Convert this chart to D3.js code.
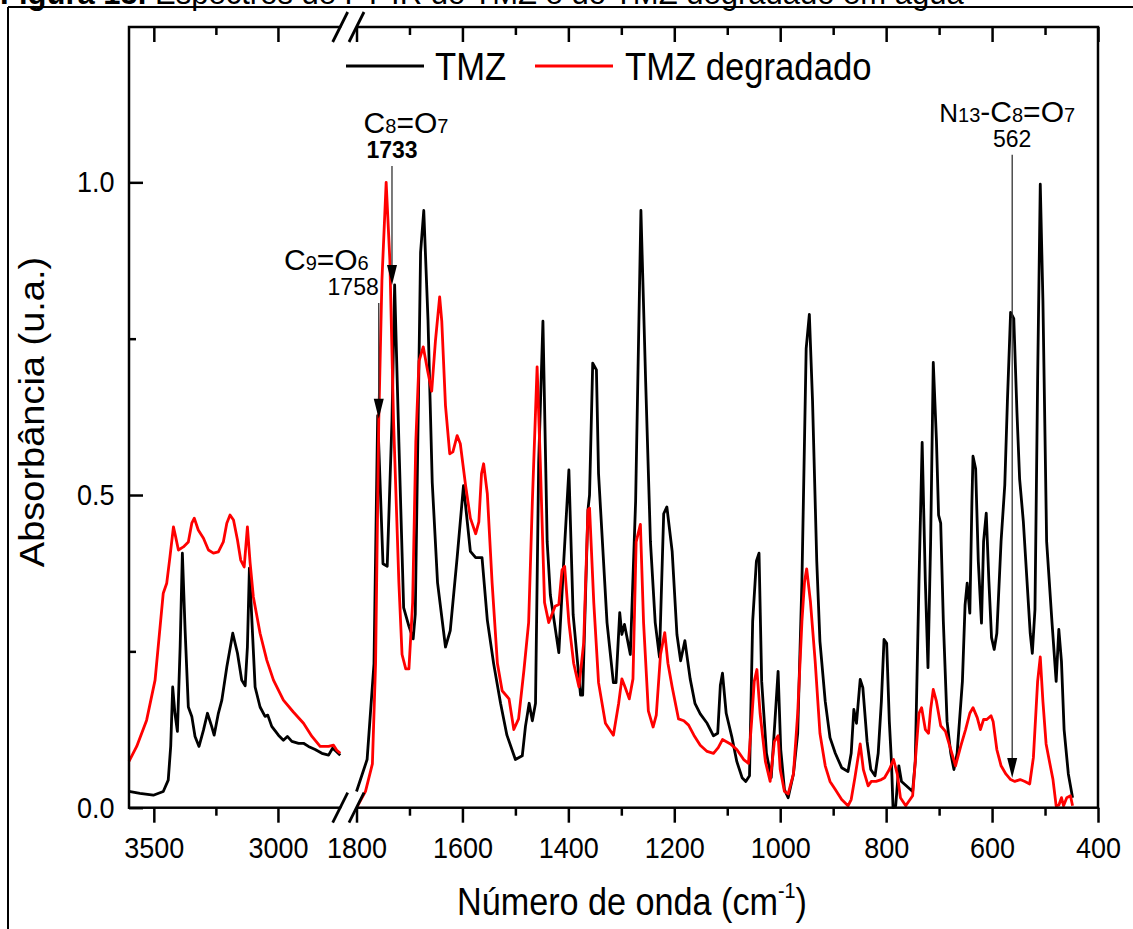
<!DOCTYPE html>
<html>
<head>
<meta charset="utf-8">
<script src="https://cdn.jsdelivr.net/npm/d3@7"></script>
<style>
  body { margin: 0; background: #fff; }
  svg { display: block; font-family: "Liberation Sans", Arial, sans-serif; }
</style>
</head>
<body>
<script>
const w = 1133;
const h = 929;
const plot = { left: 129, right: 1098, top: 27, bottom: 807.7 };
const squeeze = 0.9; // the original picture is a bit narrower than tall

// high wavenumber part (3600-2750 cm-1)
const tmzHighWn = [3600, 3556, 3502, 3462, 3442, 3432, 3424, 3415, 3405, 3394, 3385, 3374, 3361, 3347, 3334, 3318, 3300, 3284, 3267, 3257, 3240, 3226, 3206, 3182, 3163, 3146, 3132, 3123, 3115, 3105, 3092, 3072, 3052, 3041, 3025, 2998, 2978, 2962, 2944, 2917, 2897, 2877, 2850, 2823, 2796, 2780, 2765, 2749];
const tmzHighAbs = [0.026, 0.023, 0.02, 0.026, 0.044, 0.098, 0.193, 0.151, 0.122, 0.257, 0.407, 0.284, 0.161, 0.146, 0.114, 0.098, 0.124, 0.151, 0.13, 0.116, 0.151, 0.172, 0.225, 0.279, 0.247, 0.204, 0.195, 0.257, 0.383, 0.3, 0.193, 0.161, 0.146, 0.148, 0.13, 0.116, 0.108, 0.114, 0.106, 0.103, 0.103, 0.098, 0.093, 0.087, 0.084, 0.095, 0.09, 0.084];
const degHighWn = [3600, 3569, 3529, 3495, 3462, 3448, 3435, 3421, 3412, 3401, 3381, 3361, 3347, 3337, 3321, 3300, 3280, 3260, 3240, 3220, 3206, 3193, 3179, 3163, 3150, 3136, 3123, 3112, 3099, 3072, 3045, 3018, 2978, 2938, 2897, 2863, 2830, 2796, 2776, 2763, 2749];
const degHighAbs = [0.074, 0.098, 0.14, 0.204, 0.343, 0.359, 0.401, 0.449, 0.433, 0.412, 0.417, 0.425, 0.455, 0.463, 0.444, 0.431, 0.412, 0.407, 0.409, 0.425, 0.455, 0.468, 0.46, 0.428, 0.396, 0.385, 0.449, 0.391, 0.337, 0.279, 0.236, 0.204, 0.172, 0.153, 0.135, 0.114, 0.098, 0.098, 0.1, 0.092, 0.087];

// low wavenumber part (1800-400 cm-1)
const tmzLowWn = [1800, 1780, 1767, 1760, 1750, 1742, 1733, 1728, 1720, 1711, 1701, 1693, 1689, 1679, 1673, 1665, 1657, 1647, 1632, 1623, 1610, 1598, 1585, 1575, 1563, 1553, 1541, 1528, 1516, 1500, 1487, 1481, 1474, 1468, 1462, 1456, 1448, 1440, 1434, 1418, 1409, 1399, 1391, 1377, 1373, 1363, 1360, 1354, 1347, 1343, 1327, 1315, 1310, 1303, 1299, 1294, 1283, 1273, 1263, 1254, 1245, 1236, 1228, 1220, 1214, 1204, 1195, 1188, 1180, 1170, 1161, 1151, 1138, 1126, 1118, 1113, 1109, 1102, 1091, 1082, 1072, 1065, 1058, 1052, 1045, 1040, 1035, 1026, 1017, 1010, 1004, 999, 992, 985, 975, 967, 959, 951, 945, 939, 931, 925, 915, 906, 896, 884, 872, 866, 861, 856, 849, 844, 836, 829, 821, 815, 809, 804, 799, 794, 790, 787, 782, 776, 771, 762, 750, 745, 738, 732, 726, 721, 716, 711, 705, 701, 697, 692, 685, 678, 672, 666, 656, 651, 647, 642, 638, 636, 631, 626, 620, 616, 611, 606, 601, 596, 591, 583, 576, 571, 565, 559, 553, 548, 541, 534, 528, 524, 519, 514, 509, 504, 497, 487, 479, 474, 469, 464, 456, 448];
const tmzLowAbs = [0.026, 0.077, 0.23, 0.627, 0.39, 0.386, 0.62, 0.836, 0.585, 0.32, 0.29, 0.27, 0.31, 0.888, 0.955, 0.78, 0.52, 0.36, 0.257, 0.283, 0.4, 0.515, 0.41, 0.4, 0.4, 0.3, 0.23, 0.167, 0.116, 0.077, 0.083, 0.13, 0.167, 0.139, 0.167, 0.553, 0.778, 0.425, 0.34, 0.248, 0.39, 0.54, 0.309, 0.18, 0.18, 0.476, 0.5, 0.711, 0.7, 0.534, 0.296, 0.2, 0.2, 0.312, 0.277, 0.293, 0.245, 0.49, 0.955, 0.68, 0.425, 0.296, 0.241, 0.47, 0.481, 0.41, 0.277, 0.235, 0.267, 0.206, 0.167, 0.15, 0.135, 0.115, 0.119, 0.196, 0.215, 0.151, 0.112, 0.074, 0.048, 0.042, 0.051, 0.298, 0.394, 0.407, 0.202, 0.087, 0.048, 0.138, 0.218, 0.093, 0.029, 0.016, 0.054, 0.119, 0.362, 0.734, 0.789, 0.651, 0.394, 0.266, 0.17, 0.112, 0.087, 0.064, 0.058, 0.087, 0.157, 0.135, 0.205, 0.192, 0.106, 0.061, 0.051, 0.087, 0.17, 0.269, 0.263, 0.138, 0.074, 0.0, 0.003, 0.067, 0.042, 0.035, 0.026, 0.074, 0.362, 0.584, 0.362, 0.224, 0.426, 0.712, 0.587, 0.468, 0.455, 0.298, 0.138, 0.087, 0.061, 0.087, 0.202, 0.324, 0.359, 0.311, 0.491, 0.562, 0.542, 0.394, 0.295, 0.426, 0.471, 0.362, 0.272, 0.253, 0.279, 0.426, 0.516, 0.651, 0.792, 0.782, 0.632, 0.526, 0.458, 0.362, 0.279, 0.247, 0.317, 0.683, 0.997, 0.811, 0.426, 0.298, 0.202, 0.285, 0.234, 0.125, 0.054, 0.016];
const degLowWn = [1800, 1783, 1770, 1764, 1758, 1752, 1744, 1737, 1730, 1720, 1714, 1707, 1701, 1694, 1688, 1682, 1674, 1666, 1658, 1651, 1643, 1639, 1632, 1624, 1618, 1610, 1604, 1594, 1585, 1575, 1569, 1564, 1560, 1553, 1544, 1534, 1525, 1512, 1503, 1494, 1484, 1475, 1468, 1459, 1453, 1445, 1437, 1425, 1418, 1412, 1407, 1399, 1390, 1380, 1371, 1363, 1360, 1352, 1343, 1330, 1315, 1305, 1299, 1293, 1285, 1278, 1272, 1264, 1258, 1249, 1240, 1234, 1226, 1218, 1212, 1204, 1192, 1182, 1173, 1163, 1151, 1138, 1126, 1117, 1109, 1094, 1082, 1069, 1060, 1054, 1049, 1044, 1038, 1028, 1019, 1011, 1004, 1000, 992, 985, 975, 967, 959, 954, 950, 943, 934, 925, 915, 906, 896, 884, 872, 866, 859, 849, 843, 834, 828, 819, 809, 803, 794, 786, 779, 773, 763, 750, 745, 738, 733, 726, 720, 716, 711, 705, 697, 688, 678, 669, 659, 650, 642, 636, 628, 622, 616, 610, 602, 598, 591, 583, 574, 565, 557, 547, 538, 529, 522, 514, 509, 504, 498, 491, 485, 479, 474, 469, 465, 459, 452, 448];
const degLowAbs = [0.0, 0.026, 0.07, 0.23, 0.617, 0.843, 1.0, 0.875, 0.617, 0.36, 0.245, 0.222, 0.222, 0.328, 0.585, 0.714, 0.737, 0.7, 0.666, 0.746, 0.817, 0.778, 0.643, 0.566, 0.569, 0.595, 0.582, 0.515, 0.463, 0.438, 0.457, 0.534, 0.55, 0.502, 0.36, 0.231, 0.187, 0.174, 0.125, 0.142, 0.219, 0.296, 0.489, 0.705, 0.553, 0.328, 0.296, 0.322, 0.325, 0.38, 0.386, 0.296, 0.231, 0.193, 0.264, 0.476, 0.479, 0.328, 0.2, 0.135, 0.116, 0.167, 0.206, 0.193, 0.174, 0.206, 0.425, 0.453, 0.296, 0.155, 0.129, 0.148, 0.245, 0.28, 0.231, 0.193, 0.142, 0.139, 0.132, 0.116, 0.1, 0.09, 0.087, 0.096, 0.109, 0.102, 0.093, 0.077, 0.071, 0.138, 0.202, 0.221, 0.151, 0.074, 0.042, 0.106, 0.115, 0.061, 0.026, 0.022, 0.054, 0.151, 0.298, 0.362, 0.382, 0.33, 0.234, 0.119, 0.067, 0.042, 0.029, 0.013, 0.003, 0.013, 0.048, 0.102, 0.061, 0.035, 0.042, 0.042, 0.045, 0.048, 0.061, 0.077, 0.054, 0.016, 0.003, 0.019, 0.074, 0.151, 0.16, 0.125, 0.119, 0.157, 0.189, 0.17, 0.131, 0.122, 0.093, 0.067, 0.099, 0.125, 0.151, 0.16, 0.144, 0.125, 0.141, 0.141, 0.147, 0.138, 0.093, 0.067, 0.054, 0.045, 0.042, 0.045, 0.042, 0.038, 0.08, 0.202, 0.241, 0.17, 0.102, 0.071, 0.045, 0.003, 0.004, 0.016, 0.003, 0.016, 0.019, 0.003];

const highTicks = [3500, 3000];
const highMinor = [3250];
const lowTicks = [1800, 1600, 1400, 1200, 1000, 800, 600, 400];
const lowMinor = [1700, 1500, 1300, 1100, 900, 700, 500];
const yTicks = [0, 0.5, 1.0];
const yMinor = [0.25, 0.75];

const seriesNames = ["TMZ", "TMZ degradado"];
const seriesColors = ["#000000", "#ff0000"];

// band labels: [wavenumber, arrow tip, arrow top, number]
const bands = [
  [1758, 0.622, 0.807, "1758"],
  [1733, 0.836, 1.026, "1733"],
  [562, 0.0475, 1.044, "562"]
];

const createScales = () => {
  const xHigh = d3.scaleLinear().domain([3600, 2750]).range([plot.left, 340]);
  const xLow = d3.scaleLinear().domain([1800, 400]).range([356.5, plot.right]);
  const y = d3.scaleLinear().domain([0, 1.2484]).range([plot.bottom, plot.top]);
  return { xHigh, xLow, y };
};

const styleAxis = (g) => {
  g.select(".domain").remove();
  g.selectAll(".tick line").attr("stroke", "#000").attr("stroke-width", 2.5);
  g.selectAll(".tick text")
    .attr("fill", "#000")
    .attr("font-size", 30)
    .attr("font-family", "Liberation Sans, Arial, sans-serif")
    .attr("transform", `scale(${squeeze},1)`);
};

const createAxes = (svg, { xHigh, xLow, y }) => {
  const fmt = d3.format("d");
  [[xHigh, highTicks, highMinor], [xLow, lowTicks, lowMinor]].forEach(([sc, major, minor]) => {
    svg.append("g")
      .attr("transform", `translate(0,${plot.bottom})`)
      .call(d3.axisBottom(sc).tickValues(major).tickSize(15).tickPadding(14).tickFormat(fmt))
      .call(styleAxis);
    svg.append("g")
      .attr("transform", `translate(0,${plot.bottom})`)
      .call(d3.axisBottom(sc).tickValues(minor).tickSize(8).tickFormat(""))
      .call(styleAxis);
    svg.append("g")
      .attr("transform", `translate(0,${plot.top})`)
      .call(d3.axisTop(sc).tickValues(major).tickSize(-15).tickFormat(""))
      .call(styleAxis);
    svg.append("g")
      .attr("transform", `translate(0,${plot.top})`)
      .call(d3.axisTop(sc).tickValues(minor).tickSize(-8).tickFormat(""))
      .call(styleAxis);
  });
  svg.append("g")
    .attr("transform", `translate(${plot.left},0)`)
    .call(d3.axisLeft(y).tickValues(yTicks).tickSize(-14).tickPadding(16).tickFormat(d3.format(".1f")))
    .call(styleAxis);
  svg.append("g")
    .attr("transform", `translate(${plot.left},0)`)
    .call(d3.axisLeft(y).tickValues(yMinor).tickSize(-7).tickFormat(""))
    .call(styleAxis);

  // frame
  svg.append("rect")
    .attr("x", plot.left).attr("y", plot.top)
    .attr("width", plot.right - plot.left).attr("height", plot.bottom - plot.top)
    .attr("fill", "none").attr("stroke", "#000").attr("stroke-width", 2.5);

  // x title
  const xt = svg.append("text")
    .attr("transform", `translate(632,915) scale(${squeeze},1)`)
    .attr("text-anchor", "middle")
    .attr("font-size", 38);
  xt.append("tspan").text("Número de onda (cm");
  xt.append("tspan").attr("font-size", 22).attr("dy", -17).text("-1");
  xt.append("tspan").attr("dy", 17).text(")");

  // y title
  svg.append("text")
    .attr("transform", `translate(44,412) scale(${squeeze},1) rotate(-90)`)
    .attr("text-anchor", "middle")
    .attr("font-size", 38)
    .text("Absorbância (u.a.)");
};

const createLines = (svg, { xHigh, xLow, y }) => {
  const sets = [
    [xHigh, tmzHighWn, tmzHighAbs, 0],
    [xHigh, degHighWn, degHighAbs, 1],
    [xLow, tmzLowWn, tmzLowAbs, 0],
    [xLow, degLowWn, degLowAbs, 1]
  ];
  sets.forEach(([sc, wn, ab, k]) => {
    const pts = wn.map((v, i) => [v, ab[i]]);
    const line = d3.line().x((d) => sc(d[0])).y((d) => y(d[1]));
    svg.append("path")
      .attr("d", line(pts))
      .attr("fill", "none")
      .attr("stroke", seriesColors[k])
      .attr("stroke-width", 2.8)
      .attr("stroke-linejoin", "round");
  });
};

const createBreak = (svg) => {
  [plot.bottom, plot.top].forEach((yy) => {
    svg.append("polygon")
      .attr("points", `${334},${yy + 15} ${349},${yy - 15} ${364},${yy - 15} ${349},${yy + 15}`)
      .attr("fill", "#fff");
    [340.2, 356.5].forEach((cx) => {
      svg.append("line")
        .attr("x1", cx - 7.5).attr("y1", yy + 15)
        .attr("x2", cx + 7.5).attr("y2", yy - 15)
        .attr("stroke", "#000").attr("stroke-width", 2.8);
    });
  });
};

const createLegend = (svg) => {
  const items = [[346, 435], [535, 625]];
  items.forEach(([lx, tx], i) => {
    svg.append("line")
      .attr("x1", lx).attr("x2", lx + 78).attr("y1", 66).attr("y2", 66)
      .attr("stroke", seriesColors[i]).attr("stroke-width", 3);
    svg.append("text")
      .attr("transform", `translate(${tx},80) scale(${squeeze},1)`)
      .attr("font-size", 38.5)
      .text(seriesNames[i]);
  });
};

const labelParts = [
  [["C", 30], ["9", 20], ["=O", 30], ["6", 20]],
  [["C", 30], ["8", 20], ["=O", 30], ["7", 20]],
  [["N", 26], ["13", 20], ["-C", 30], ["8", 20], ["=O", 30], ["7", 20]]
];

const createBands = (svg, { xLow, y }) => {
  bands.forEach(([wn, tip, top, num], i) => {
    const x = xLow(wn);
    const yTip = y(tip);
    svg.append("line")
      .attr("x1", x).attr("x2", x).attr("y1", y(top)).attr("y2", yTip - 18)
      .attr("stroke", "#333").attr("stroke-width", 1.3);
    svg.append("polygon")
      .attr("points", `${x - 5},${yTip - 20} ${x + 5},${yTip - 20} ${x},${yTip}`)
      .attr("fill", "#000");

    const anchor = i === 0 ? "end" : "middle";
    const labelX = i === 0 ? x - 10 : i === 1 ? x + 14 : x - 5;
    svg.append("text")
      .attr("x", x).attr("y", y(top) - 8)
      .attr("text-anchor", anchor)
      .attr("font-size", 23)
      .attr("font-weight", i === 1 ? "bold" : "normal")
      .text(num);
    const t = svg.append("text")
      .attr("x", labelX).attr("y", y(top) - 33)
      .attr("text-anchor", anchor);
    labelParts[i].forEach(([s, fs]) => t.append("tspan").attr("font-size", fs).text(s));
  });
};

const createCaption = (svg) => {
  svg.append("line").attr("x1", 8).attr("x2", w).attr("y1", 7).attr("y2", 7)
    .attr("stroke", "#000").attr("stroke-width", 2);
  svg.append("line").attr("x1", 8).attr("x2", 8).attr("y1", 7).attr("y2", h)
    .attr("stroke", "#000").attr("stroke-width", 2);
  const cap = svg.append("text").attr("x", 0).attr("y", 4).attr("font-size", 31);
  cap.append("tspan").attr("font-weight", "bold").text("Figura 15.");
  cap.append("tspan").text(" Espectros de FT-IR do TMZ e do TMZ degradado em água");
};

const init = () => {
  const svg = d3.select("body").append("svg").attr("width", w).attr("height", h);
  const scales = createScales();
  createCaption(svg);
  createLines(svg, scales);
  createAxes(svg, scales);
  createBreak(svg);
  createLegend(svg);
  createBands(svg, scales);
};
init();
</script>
</body>
</html>
